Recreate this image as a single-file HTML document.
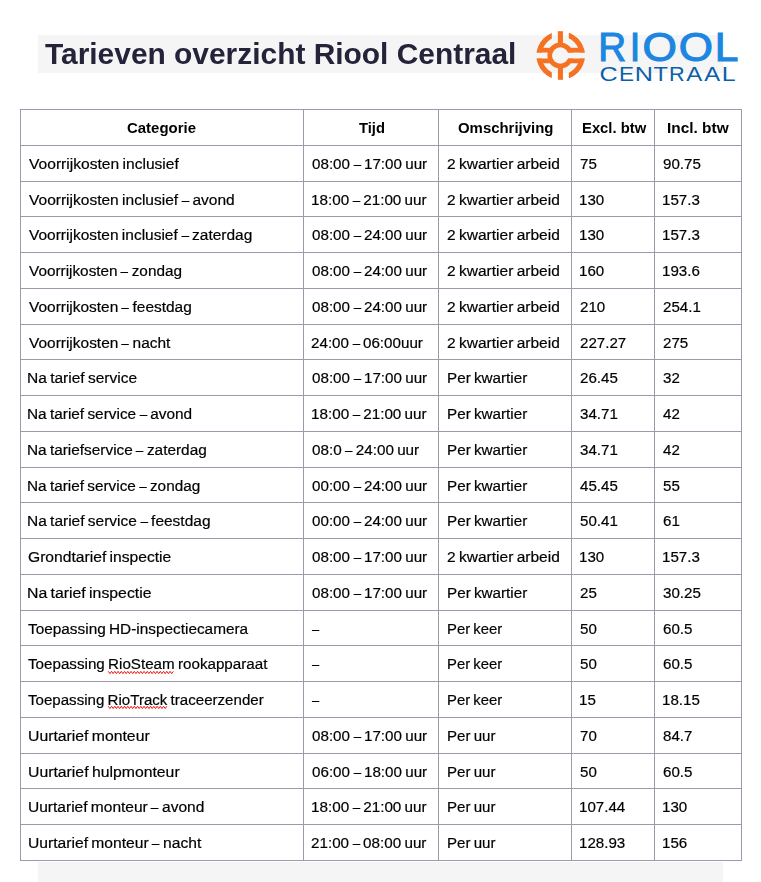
<!DOCTYPE html>
<html><head><meta charset="utf-8"><style>
html,body{margin:0;padding:0;background:#fff;}
body{width:761px;height:882px;position:relative;overflow:hidden;font-family:"Liberation Sans",sans-serif;color:#000;}
.band{position:absolute;background:#f5f5f6;}
.title{position:absolute;left:45px;top:0;font-weight:bold;font-size:30.3px;color:#24233a;white-space:nowrap;line-height:1;transform:scaleX(0.987);transform-origin:0 0;}
.h{position:absolute;background:#9c9aaa;height:1px;}
.v{position:absolute;background:#9c9aaa;width:1px;}
.t{position:absolute;font-size:15.5px;line-height:1;white-space:nowrap;transform-origin:0 0;-webkit-text-stroke:0.2px #000;word-spacing:-1px;}
.d{display:inline-block;transform:scaleX(.88);margin:0 -0.5px;}
.b{font-weight:bold;word-spacing:normal;-webkit-text-stroke:0;}

</style></head><body>
<div class="band" style="left:38px;top:35px;width:685px;height:37.7px"></div>
<div class="band" style="left:38px;top:862px;width:685px;height:20px"></div>
<div class="title" style="top:38.9px">Tarieven overzicht Riool Centraal</div>
<svg style="position:absolute;left:0;top:0" width="761" height="110" viewBox="0 0 761 110">
<defs><mask id="m" maskUnits="userSpaceOnUse" x="520" y="20" width="80" height="70">
<circle cx="560.7" cy="55.5" r="24.35" fill="#fff"/>
<rect x="520" y="52.75" width="40.299999999999955" height="5.55" fill="#000"/>
<circle cx="560.3" cy="55.5" r="13.2" fill="#fff"/>
<circle cx="560.3" cy="55.5" r="8.1" fill="#000"/>
<rect x="560.3" y="52.75" width="40" height="5.55" fill="#000"/>
<rect x="551.8" y="20" width="17" height="22.3" fill="#000"/>
<rect x="551.8" y="68.7" width="17" height="20" fill="#000"/>
</mask></defs>
<g fill="#f47221" mask="url(#m)">
<circle cx="560.7" cy="55.5" r="21.65" fill="none" stroke="#f47221" stroke-width="5.4"/>
<circle cx="560.3" cy="55.5" r="10.55" fill="none" stroke="#f47221" stroke-width="4.9"/>
<rect x="534" y="47.8" width="54" height="4.95"/>
<rect x="534" y="58.3" width="54" height="4.95"/>
</g>
<rect x="557.85" y="31.2" width="5.1" height="13" fill="#f47221"/>
<rect x="557.85" y="66.8" width="5.1" height="13" fill="#f47221"/>
<text transform="translate(598.31,60.5) scale(0.966,1)" font-family="Liberation Sans, sans-serif" font-size="40.0" fill="#1c86e0" stroke="#1c86e0" stroke-width="1.1" stroke-linejoin="miter">R</text>
<text transform="translate(629.65,60.5) scale(0.950,1)" font-family="Liberation Sans, sans-serif" font-size="40.0" fill="#1c86e0" stroke="#1c86e0" stroke-width="1.1" stroke-linejoin="miter">I</text>
<text transform="translate(642.44,60.5) scale(1.105,1)" font-family="Liberation Sans, sans-serif" font-size="40.0" fill="#1c86e0" stroke="#1c86e0" stroke-width="1.1" stroke-linejoin="miter">O</text>
<text transform="translate(678.64,60.5) scale(1.101,1)" font-family="Liberation Sans, sans-serif" font-size="40.0" fill="#1c86e0" stroke="#1c86e0" stroke-width="1.1" stroke-linejoin="miter">O</text>
<text transform="translate(714.77,60.5) scale(1.061,1)" font-family="Liberation Sans, sans-serif" font-size="40.0" fill="#1c86e0" stroke="#1c86e0" stroke-width="1.1" stroke-linejoin="miter">L</text>
<text transform="translate(599.62,80.6) scale(1.257,1)" font-family="Liberation Sans, sans-serif" font-size="20" fill="#0b5fa8">C</text>
<text transform="translate(618.94,80.6) scale(1.125,1)" font-family="Liberation Sans, sans-serif" font-size="20" fill="#0b5fa8">E</text>
<text transform="translate(634.83,80.6) scale(1.262,1)" font-family="Liberation Sans, sans-serif" font-size="20" fill="#0b5fa8">N</text>
<text transform="translate(653.43,80.6) scale(1.185,1)" font-family="Liberation Sans, sans-serif" font-size="20" fill="#0b5fa8">T</text>
<text transform="translate(669.01,80.6) scale(1.083,1)" font-family="Liberation Sans, sans-serif" font-size="20" fill="#0b5fa8">R</text>
<text transform="translate(686.30,80.6) scale(1.198,1)" font-family="Liberation Sans, sans-serif" font-size="20" fill="#0b5fa8">A</text>
<text transform="translate(704.30,80.6) scale(1.191,1)" font-family="Liberation Sans, sans-serif" font-size="20" fill="#0b5fa8">A</text>
<text transform="translate(721.75,80.6) scale(1.247,1)" font-family="Liberation Sans, sans-serif" font-size="20" fill="#0b5fa8">L</text>
</svg>
<div class="h" style="left:20px;top:109px;width:722px"></div><div class="h" style="left:20px;top:145px;width:722px"></div><div class="h" style="left:20px;top:181px;width:722px"></div><div class="h" style="left:20px;top:216px;width:722px"></div><div class="h" style="left:20px;top:252px;width:722px"></div><div class="h" style="left:20px;top:288px;width:722px"></div><div class="h" style="left:20px;top:324px;width:722px"></div><div class="h" style="left:20px;top:359px;width:722px"></div><div class="h" style="left:20px;top:395px;width:722px"></div><div class="h" style="left:20px;top:431px;width:722px"></div><div class="h" style="left:20px;top:467px;width:722px"></div><div class="h" style="left:20px;top:502px;width:722px"></div><div class="h" style="left:20px;top:538px;width:722px"></div><div class="h" style="left:20px;top:574px;width:722px"></div><div class="h" style="left:20px;top:610px;width:722px"></div><div class="h" style="left:20px;top:645px;width:722px"></div><div class="h" style="left:20px;top:681px;width:722px"></div><div class="h" style="left:20px;top:717px;width:722px"></div><div class="h" style="left:20px;top:753px;width:722px"></div><div class="h" style="left:20px;top:788px;width:722px"></div><div class="h" style="left:20px;top:824px;width:722px"></div><div class="h" style="left:20px;top:860px;width:722px"></div><div class="v" style="left:20px;top:109px;height:752px"></div><div class="v" style="left:303px;top:109px;height:752px"></div><div class="v" style="left:438px;top:109px;height:752px"></div><div class="v" style="left:571px;top:109px;height:752px"></div><div class="v" style="left:654px;top:109px;height:752px"></div><div class="v" style="left:741px;top:109px;height:752px"></div>
<div class="t b" style="left:127.13px;top:119.88px;transform:scaleX(0.9643)">Categorie</div><div class="t b" style="left:359.30px;top:119.88px;transform:scaleX(0.9514)">Tijd</div><div class="t b" style="left:458.23px;top:119.88px;transform:scaleX(0.9633)">Omschrijving</div><div class="t b" style="left:581.57px;top:119.88px;transform:scaleX(0.9552)">Excl. btw</div><div class="t b" style="left:667.34px;top:119.88px;transform:scaleX(0.9937)">Incl. btw</div>
<div class="t" style="left:28.60px;top:155.88px;transform:scaleX(1.0063)">Voorrijkosten inclusief</div><div class="t" style="left:311.73px;top:155.88px;transform:scaleX(0.9798)">08:00 <span class=d>–</span> 17:00 uur</div><div class="t" style="left:446.97px;top:155.88px;transform:scaleX(1.0020)">2 kwartier arbeid</div><div class="t" style="left:579.69px;top:155.88px;transform:scaleX(0.9760)">75</div><div class="t" style="left:662.59px;top:155.88px;transform:scaleX(0.9760)">90.75</div>
<div class="t" style="left:28.60px;top:191.88px;transform:scaleX(1.0015)">Voorrijkosten inclusief <span class=d>–</span> avond</div><div class="t" style="left:311.25px;top:191.88px;transform:scaleX(0.9839)">18:00 <span class=d>–</span> 21:00 uur</div><div class="t" style="left:446.97px;top:191.88px;transform:scaleX(1.0020)">2 kwartier arbeid</div><div class="t" style="left:579.45px;top:191.88px;transform:scaleX(0.9760)">130</div><div class="t" style="left:662.35px;top:191.88px;transform:scaleX(0.9760)">157.3</div>
<div class="t" style="left:28.60px;top:226.88px;transform:scaleX(0.9992)">Voorrijkosten inclusief <span class=d>–</span> zaterdag</div><div class="t" style="left:311.73px;top:226.88px;transform:scaleX(0.9798)">08:00 <span class=d>–</span> 24:00 uur</div><div class="t" style="left:446.97px;top:226.88px;transform:scaleX(1.0020)">2 kwartier arbeid</div><div class="t" style="left:579.45px;top:226.88px;transform:scaleX(0.9760)">130</div><div class="t" style="left:662.35px;top:226.88px;transform:scaleX(0.9760)">157.3</div>
<div class="t" style="left:28.60px;top:262.88px;transform:scaleX(0.9888)">Voorrijkosten <span class=d>–</span> zondag</div><div class="t" style="left:311.73px;top:262.88px;transform:scaleX(0.9798)">08:00 <span class=d>–</span> 24:00 uur</div><div class="t" style="left:446.97px;top:262.88px;transform:scaleX(1.0020)">2 kwartier arbeid</div><div class="t" style="left:579.45px;top:262.88px;transform:scaleX(0.9760)">160</div><div class="t" style="left:662.35px;top:262.88px;transform:scaleX(0.9760)">193.6</div>
<div class="t" style="left:28.60px;top:298.88px;transform:scaleX(0.9967)">Voorrijkosten <span class=d>–</span> feestdag</div><div class="t" style="left:311.73px;top:298.88px;transform:scaleX(0.9798)">08:00 <span class=d>–</span> 24:00 uur</div><div class="t" style="left:446.97px;top:298.88px;transform:scaleX(1.0020)">2 kwartier arbeid</div><div class="t" style="left:579.69px;top:298.88px;transform:scaleX(0.9760)">210</div><div class="t" style="left:662.59px;top:298.88px;transform:scaleX(0.9760)">254.1</div>
<div class="t" style="left:28.60px;top:334.88px;transform:scaleX(0.9971)">Voorrijkosten <span class=d>–</span> nacht</div><div class="t" style="left:311.49px;top:334.88px;transform:scaleX(0.9796)">24:00 <span class=d>–</span> 06:00uur</div><div class="t" style="left:446.97px;top:334.88px;transform:scaleX(1.0020)">2 kwartier arbeid</div><div class="t" style="left:579.69px;top:334.88px;transform:scaleX(0.9760)">227.27</div><div class="t" style="left:662.59px;top:334.88px;transform:scaleX(0.9760)">275</div>
<div class="t" style="left:27.39px;top:369.88px;transform:scaleX(1.0005)">Na tarief service</div><div class="t" style="left:311.73px;top:369.88px;transform:scaleX(0.9798)">08:00 <span class=d>–</span> 17:00 uur</div><div class="t" style="left:446.51px;top:369.88px;transform:scaleX(0.9826)">Per kwartier</div><div class="t" style="left:579.69px;top:369.88px;transform:scaleX(0.9760)">26.45</div><div class="t" style="left:662.83px;top:369.88px;transform:scaleX(0.9760)">32</div>
<div class="t" style="left:27.40px;top:405.88px;transform:scaleX(0.9923)">Na tarief service <span class=d>–</span> avond</div><div class="t" style="left:311.25px;top:405.88px;transform:scaleX(0.9839)">18:00 <span class=d>–</span> 21:00 uur</div><div class="t" style="left:446.51px;top:405.88px;transform:scaleX(0.9826)">Per kwartier</div><div class="t" style="left:579.93px;top:405.88px;transform:scaleX(0.9760)">34.71</div><div class="t" style="left:663.06px;top:405.88px;transform:scaleX(0.9760)">42</div>
<div class="t" style="left:27.40px;top:441.88px;transform:scaleX(0.9919)">Na tariefservice <span class=d>–</span> zaterdag</div><div class="t" style="left:311.72px;top:441.88px;transform:scaleX(0.9840)">08:0 <span class=d>–</span> 24:00 uur</div><div class="t" style="left:446.51px;top:441.88px;transform:scaleX(0.9826)">Per kwartier</div><div class="t" style="left:579.93px;top:441.88px;transform:scaleX(0.9760)">34.71</div><div class="t" style="left:663.06px;top:441.88px;transform:scaleX(0.9760)">42</div>
<div class="t" style="left:27.40px;top:477.88px;transform:scaleX(0.9897)">Na tarief service <span class=d>–</span> zondag</div><div class="t" style="left:311.73px;top:477.88px;transform:scaleX(0.9798)">00:00 <span class=d>–</span> 24:00 uur</div><div class="t" style="left:446.51px;top:477.88px;transform:scaleX(0.9826)">Per kwartier</div><div class="t" style="left:580.16px;top:477.88px;transform:scaleX(0.9760)">45.45</div><div class="t" style="left:662.83px;top:477.88px;transform:scaleX(0.9760)">55</div>
<div class="t" style="left:27.39px;top:512.88px;transform:scaleX(0.9989)">Na tarief service <span class=d>–</span> feestdag</div><div class="t" style="left:311.73px;top:512.88px;transform:scaleX(0.9798)">00:00 <span class=d>–</span> 24:00 uur</div><div class="t" style="left:446.51px;top:512.88px;transform:scaleX(0.9826)">Per kwartier</div><div class="t" style="left:579.93px;top:512.88px;transform:scaleX(0.9760)">50.41</div><div class="t" style="left:662.59px;top:512.88px;transform:scaleX(0.9760)">61</div>
<div class="t" style="left:27.87px;top:548.88px;transform:scaleX(1.0088)">Grondtarief inspectie</div><div class="t" style="left:311.73px;top:548.88px;transform:scaleX(0.9798)">08:00 <span class=d>–</span> 17:00 uur</div><div class="t" style="left:446.97px;top:548.88px;transform:scaleX(1.0020)">2 kwartier arbeid</div><div class="t" style="left:579.45px;top:548.88px;transform:scaleX(0.9760)">130</div><div class="t" style="left:662.35px;top:548.88px;transform:scaleX(0.9760)">157.3</div>
<div class="t" style="left:27.37px;top:584.88px;transform:scaleX(1.0198)">Na tarief inspectie</div><div class="t" style="left:311.73px;top:584.88px;transform:scaleX(0.9798)">08:00 <span class=d>–</span> 17:00 uur</div><div class="t" style="left:446.51px;top:584.88px;transform:scaleX(0.9826)">Per kwartier</div><div class="t" style="left:579.69px;top:584.88px;transform:scaleX(0.9760)">25</div><div class="t" style="left:662.83px;top:584.88px;transform:scaleX(0.9760)">30.25</div>
<div class="t" style="left:28.36px;top:620.88px;transform:scaleX(0.9911)">Toepassing HD-inspectiecamera</div><div class="t" style="left:312.20px;top:620.88px;transform:scaleX(0.8373)">–</div><div class="t" style="left:446.54px;top:620.88px;transform:scaleX(0.9575)">Per keer</div><div class="t" style="left:579.93px;top:620.88px;transform:scaleX(0.9760)">50</div><div class="t" style="left:662.59px;top:620.88px;transform:scaleX(0.9760)">60.5</div>
<div class="t" style="left:28.36px;top:655.88px;transform:scaleX(0.9794)">Toepassing <span class=sp>RioSteam</span> rookapparaat</div><div class="t" style="left:312.20px;top:655.88px;transform:scaleX(0.8373)">–</div><div class="t" style="left:446.54px;top:655.88px;transform:scaleX(0.9575)">Per keer</div><div class="t" style="left:579.93px;top:655.88px;transform:scaleX(0.9760)">50</div><div class="t" style="left:662.59px;top:655.88px;transform:scaleX(0.9760)">60.5</div>
<div class="t" style="left:28.36px;top:691.88px;transform:scaleX(0.9736)">Toepassing <span class=sp>RioTrack</span> traceerzender</div><div class="t" style="left:312.20px;top:691.88px;transform:scaleX(0.8373)">–</div><div class="t" style="left:446.54px;top:691.88px;transform:scaleX(0.9575)">Per keer</div><div class="t" style="left:579.45px;top:691.88px;transform:scaleX(0.9760)">15</div><div class="t" style="left:662.35px;top:691.88px;transform:scaleX(0.9760)">18.15</div>
<div class="t" style="left:27.61px;top:727.88px;transform:scaleX(1.0172)">Uurtarief monteur</div><div class="t" style="left:311.73px;top:727.88px;transform:scaleX(0.9798)">08:00 <span class=d>–</span> 17:00 uur</div><div class="t" style="left:446.52px;top:727.88px;transform:scaleX(0.9723)">Per uur</div><div class="t" style="left:579.69px;top:727.88px;transform:scaleX(0.9760)">70</div><div class="t" style="left:662.83px;top:727.88px;transform:scaleX(0.9760)">84.7</div>
<div class="t" style="left:27.61px;top:763.88px;transform:scaleX(1.0185)">Uurtarief hulpmonteur</div><div class="t" style="left:311.73px;top:763.88px;transform:scaleX(0.9798)">06:00 <span class=d>–</span> 18:00 uur</div><div class="t" style="left:446.52px;top:763.88px;transform:scaleX(0.9723)">Per uur</div><div class="t" style="left:579.93px;top:763.88px;transform:scaleX(0.9760)">50</div><div class="t" style="left:662.59px;top:763.88px;transform:scaleX(0.9760)">60.5</div>
<div class="t" style="left:27.63px;top:798.88px;transform:scaleX(1.0016)">Uurtarief monteur <span class=d>–</span> avond</div><div class="t" style="left:311.25px;top:798.88px;transform:scaleX(0.9839)">18:00 <span class=d>–</span> 21:00 uur</div><div class="t" style="left:446.52px;top:798.88px;transform:scaleX(0.9723)">Per uur</div><div class="t" style="left:579.45px;top:798.88px;transform:scaleX(0.9760)">107.44</div><div class="t" style="left:662.35px;top:798.88px;transform:scaleX(0.9760)">130</div>
<div class="t" style="left:27.62px;top:834.88px;transform:scaleX(1.0092)">Uurtarief monteur <span class=d>–</span> nacht</div><div class="t" style="left:311.49px;top:834.88px;transform:scaleX(0.9819)">21:00 <span class=d>–</span> 08:00 uur</div><div class="t" style="left:446.52px;top:834.88px;transform:scaleX(0.9723)">Per uur</div><div class="t" style="left:579.45px;top:834.88px;transform:scaleX(0.9760)">128.93</div><div class="t" style="left:662.35px;top:834.88px;transform:scaleX(0.9760)">156</div>
<svg style="position:absolute;left:0;top:0" width="761" height="882"><polyline points="108.30,671.35 109.92,673.65 111.55,671.35 113.17,673.65 114.80,671.35 116.42,673.65 118.05,671.35 119.67,673.65 121.30,671.35 122.92,673.65 124.55,671.35 126.17,673.65 127.80,671.35 129.43,673.65 131.05,671.35 132.68,673.65 134.30,671.35 135.93,673.65 137.55,671.35 139.18,673.65 140.80,671.35 142.43,673.65 144.05,671.35 145.68,673.65 147.30,671.35 148.93,673.65 150.55,671.35 152.18,673.65 153.80,671.35 155.43,673.65 157.05,671.35 158.68,673.65 160.30,671.35 161.93,673.65 163.55,671.35 165.18,673.65 166.80,671.35 168.43,673.65 170.05,671.35 171.68,673.65 173.30,671.35" fill="none" stroke="#ee1111" stroke-width="1" stroke-linejoin="round"/><polyline points="108.30,706.25 109.92,708.55 111.55,706.25 113.17,708.55 114.80,706.25 116.42,708.55 118.05,706.25 119.67,708.55 121.30,706.25 122.92,708.55 124.55,706.25 126.17,708.55 127.80,706.25 129.43,708.55 131.05,706.25 132.68,708.55 134.30,706.25 135.93,708.55 137.55,706.25 139.18,708.55 140.80,706.25 142.43,708.55 144.05,706.25 145.68,708.55 147.30,706.25 148.93,708.55 150.55,706.25 152.18,708.55 153.80,706.25 155.43,708.55 157.05,706.25 158.68,708.55 160.30,706.25 161.93,708.55 163.55,706.25 165.18,708.55 166.80,706.25" fill="none" stroke="#ee1111" stroke-width="1" stroke-linejoin="round"/></svg>
</body></html>
